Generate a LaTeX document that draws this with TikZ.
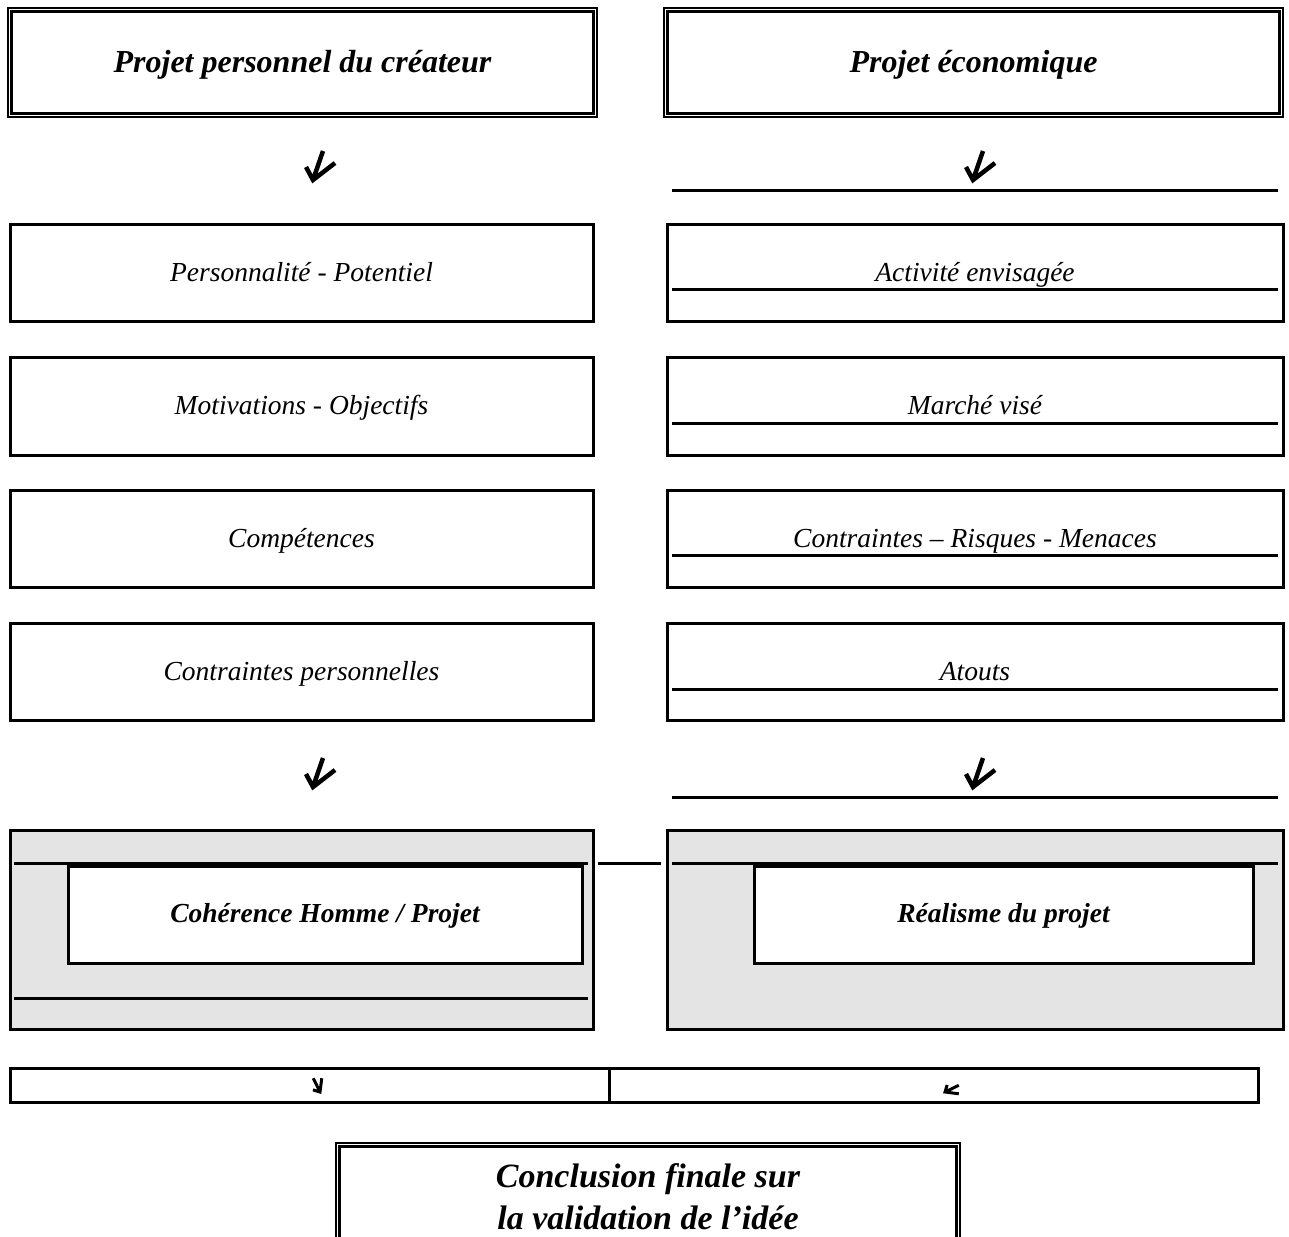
\documentclass[tikz,border=0pt]{standalone}
\usepackage{fontspec}
\setmainfont{Liberation Serif}
\definecolor{shade}{RGB}{228,228,228}
\tikzset{
  frame/.style={draw, line width=3, rectangle, inner sep=0pt, outer sep=0pt},
  itemtext/.style={frame, text height=19.5pt, text depth=2.5pt,
                   font=\itshape\fontsize{27.5}{32}\selectfont},
  headtext/.style={draw, line width=1.5, rectangle, inner sep=0pt, outer sep=0pt,
                   text height=23pt, text depth=2.4pt,
                   font=\bfseries\itshape\fontsize{32}{36}\selectfont},
  shadebox/.style={frame, fill=shade},
  innerbox/.style={frame, fill=white, text height=17.7pt, text depth=2.4pt,
                   font=\bfseries\itshape\fontsize{27.5}{32}\selectfont},
  rule/.style={line width=3},
  glyphline/.style={line width=4.5, line join=miter, line cap=butt},
  downglyph/.pic={
    \draw[glyphline] (-7,-13) -- (0,0) -- (22,-17) (0,0) -- (10,-29);
  }
}
\begin{document}
\begin{tikzpicture}[x=1pt,y=-1pt]
\useasboundingbox (0,0) rectangle (1289,1236);
\clip (0,0) rectangle (1289,1236);

% --- headings (double frame) ---
\node[headtext, minimum width=589, minimum height=109] (hl) at (302.5,62.5) {Projet personnel du créateur};
\node[headtext, minimum width=619, minimum height=109] (hr) at (973.5,62.5) {Projet économique};
\draw[line width=3] ([shift={(3.5,3.5)}]hl.north west) rectangle ([shift={(-3.5,-3.5)}]hl.south east);
\draw[line width=3] ([shift={(3.5,3.5)}]hr.north west) rectangle ([shift={(-3.5,-3.5)}]hr.south east);

% --- arrows below the headings ---
\coordinate (al) at (313,180);
\coordinate (ar) at (973,180);
\pic at (al) {downglyph};
\pic at (ar) {downglyph};
\coordinate (rl1) at (672,190);
\coordinate (rr1) at (1278,190);
\draw[rule] (rl1) -- (rr1);

% --- left column ---
\node[itemtext, minimum width=583, minimum height=97] (l1) at (301.5,272.5) {Personnalité - Potentiel};
\node[itemtext, minimum width=583, minimum height=98] (l2) at (301.5,406) {Motivations - Objectifs};
\node[itemtext, minimum width=583, minimum height=97] (l3) at (301.5,538.5) {Compétences};
\node[itemtext, minimum width=583, minimum height=97] (l4) at (301.5,671.5) {Contraintes personnelles};

% --- right column ---
\node[itemtext, minimum width=616, minimum height=97] (r1) at (975,272.5) {Activité envisagée};
\node[itemtext, minimum width=616, minimum height=98] (r2) at (975,406) {Marché visé};
\node[itemtext, minimum width=616, minimum height=97] (r3) at (975,538.5) {Contraintes – Risques - Menaces};
\node[itemtext, minimum width=616, minimum height=97] (r4) at (975,671.5) {Atouts};
\foreach \y in {289, 423, 555, 689}
  \draw[rule] (672,\y) -- (1278,\y);

% --- arrows below the columns ---
\coordinate (bl) at (313,787);
\coordinate (br) at (973,787);
\pic at (bl) {downglyph};
\pic at (br) {downglyph};
\coordinate (rl2) at (672,797);
\coordinate (rr2) at (1278,797);
\draw[rule] (rl2) -- (rr2);

% --- shaded result boxes ---
\node[shadebox, minimum width=583, minimum height=199] (sl) at (301.5,929.5) {};
\node[shadebox, minimum width=616, minimum height=199] (sr) at (975,929.5) {};
\draw[rule] (14,863) -- (588,863);
\draw[rule] (14,998) -- (588,998);
\draw[rule] (672,863) -- (1278,863);
\node[innerbox, minimum width=514, minimum height=97] (cl) at (325,914.5) {Cohérence Homme / Projet};
\node[innerbox, minimum width=499, minimum height=97] (cr) at (1003.5,914.5) {Réalisme du projet};
\coordinate (ml) at (598,863);
\coordinate (mr) at (661,863);
\draw[rule] (ml) -- (mr);

% --- joining row ---
\node[frame, minimum width=1248, minimum height=34] (jn) at (634,1085) {};
\draw[rule] (609,1068) -- (609,1102);
\pic[scale=0.5, rotate=45, glyphline/.append style={line width=3}] at (320,1092) {downglyph};
\pic[scale=0.5, rotate=-45, glyphline/.append style={line width=3}] at (945,1092) {downglyph};

% --- conclusion ---
\node[draw, line width=1.5, rectangle, inner sep=0pt, outer sep=0pt,
      minimum width=624, minimum height=108, align=center,
      font=\bfseries\itshape\fontsize{34}{42}\selectfont] (fin) at (648,1197)
  {Conclusion finale sur\\la validation de l’idée};
\draw[line width=3] ([shift={(3.5,3.5)}]fin.north west) rectangle ([shift={(-3.5,-3.5)}]fin.south east);
\end{tikzpicture}
\end{document}
